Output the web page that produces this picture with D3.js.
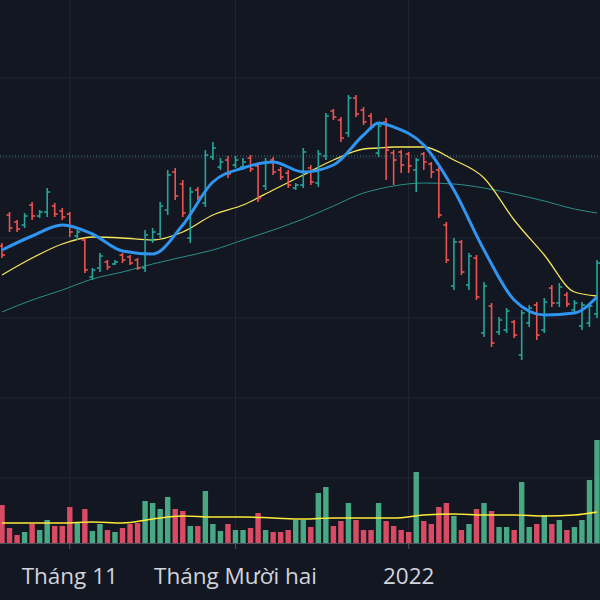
<!DOCTYPE html>
<html>
<head>
<meta charset="utf-8">
<script src="https://cdn.jsdelivr.net/npm/d3@7"></script>
<style>
  html, body { margin: 0; padding: 0; background: #131722; }
  svg { display: block; }
</style>
</head>
<body>
<svg width="600" height="600"></svg>
<script>
'use strict';
// OHLC bars (arbitrary price units)
const highs  = [357,388,380,387,398,390,412,397,392,388,370,362,332,347,340,340,347,345,342,370,
                372,398,430,432,420,413,413,450,458,442,444,444,442,445,437,442,443,433,430,417,
                452,435,450,487,491,483,505,505,493,487,478,482,450,450,448,442,448,438,433,378,
                362,360,347,345,318,297,283,292,280,290,295,298,302,315,317,308,300,298,297,340];
const lows   = [342,368,368,372,380,382,383,383,380,363,360,327,320,328,330,335,337,335,330,328,
                357,362,385,400,383,357,400,393,440,430,422,432,430,428,398,410,425,420,412,410,
                412,415,413,440,480,458,463,483,475,470,443,420,415,427,427,408,430,422,382,337,
                310,325,310,300,263,253,265,267,262,240,273,260,267,293,293,293,287,270,273,282];
const opens  = [354,385,378,375,395,384,388,394,389,386,364,360,323,332,338,336,345,343,340,332,
                360,366,390,428,416,362,410,397,443,433,440,435,433,442,434,414,440,430,427,412,
                415,432,417,444,489,480,467,502,490,484,447,478,447,448,446,430,446,436,430,375,
                314,358,315,342,267,294,268,270,278,245,277,295,270,312,297,305,290,274,277,286];
const closes = [345,372,371,384,384,388,408,386,383,368,368,330,330,344,333,338,340,337,332,365,
                368,394,425,404,387,408,403,445,452,438,426,440,438,431,402,438,428,423,415,415,
                448,418,446,484,483,462,502,486,478,473,474,450,440,435,434,440,438,428,385,340,
                358,328,344,303,314,257,280,289,265,287,292,265,298,297,313,296,297,295,294,337];
const volumes = [38,15,8,11,19,13,23,17,17,36,20,34,12,19,13,11,15,19,20,42,
                 40,34,46,34,32,17,17,52,19,12,19,13,13,15,30,13,11,11,13,23,
                 23,16,50,56,17,22,40,23,13,13,40,22,17,13,11,71,22,19,36,40,
                 27,13,19,34,40,32,16,16,13,61,16,19,28,19,23,13,16,23,63,103];

// moving averages sampled at these bar indices
const maIdx   = [0,4,8,12,16,20,24,28,32,36,40,44,48,50,52,56,60,64,68,72,76,79];
const maFast  = [350,364,375,366,349,346,375,418,432,438,428,435,465,477,473,455,410,350,300,285,287,303];
const maMid   = [325,342,356,363,362,360,368,385,395,410,425,440,451,452,453,453,440,422,380,345,308,304];
const maSlow  = [288,300,310,321,328,336,343,350,360,370,381,394,407,411,414,417,416,412,406,399,391,387];
const volMa   = [20,20,20,21,20,24,27,26,26,25,24,25,25,25,25,28,29,28,28,27,28,31];

const gridPrices = [522,442,362,282,202,122];
const lastPrice = 444;
const tickIdx = [9,31,54];
const tickLabels = ["Tháng 11", "Tháng Mười hai", "2022"];

const W = 600, H = 600;
const svg = d3.select('svg');

const x = d3.scaleLinear().domain([0, 79]).range([2, 597]);
const y = d3.scaleLinear().domain([0, 600]).range([600, 0]);
const vy = d3.scaleLinear().domain([0, 100]).range([543, 443]);

const up = '#26a69a', down = '#ef5350';

// grid
svg.append('g').selectAll('line').data(gridPrices).join('line')
    .attr('x1', 0).attr('x2', W)
    .attr('y1', d => y(d)).attr('y2', d => y(d))
    .attr('stroke', '#232733').attr('stroke-width', 1);
svg.append('g').selectAll('line').data(tickIdx).join('line')
    .attr('x1', d => x(d)).attr('x2', d => x(d))
    .attr('y1', 0).attr('y2', 543)
    .attr('stroke', '#232733').attr('stroke-width', 1);

// last price dotted line
svg.append('line')
    .attr('x1', 0).attr('x2', W)
    .attr('y1', y(lastPrice)).attr('y2', y(lastPrice))
    .attr('stroke', '#3d7f86').attr('stroke-width', 1)
    .attr('stroke-dasharray', '1,2');

// volume
svg.append('g').selectAll('rect').data(volumes).join('rect')
    .attr('x', (d, i) => x(i) - 2.7)
    .attr('width', 5.4)
    .attr('y', d => vy(d))
    .attr('height', d => 543 - vy(d))
    .attr('fill', (d, i) => closes[i] >= opens[i] ? '#4fb88f' : '#f0506a')
    .attr('opacity', 0.9);

svg.append('path')
    .datum(maIdx.map((d, i) => [d, volMa[i]]))
    .attr('fill', 'none').attr('stroke', '#ffeb3b').attr('stroke-width', 1.5)
    .attr('d', d3.line().x(d => x(d[0])).y(d => vy(d[1])).curve(d3.curveMonotoneX));

// moving averages
function maLine(vals, color, width) {
    svg.append('path')
        .datum(maIdx.map((d, i) => [d, vals[i]]))
        .attr('fill', 'none').attr('stroke', color).attr('stroke-width', width)
        .attr('d', d3.line().x(d => x(d[0])).y(d => y(d[1])).curve(d3.curveMonotoneX));
}
maLine(maSlow, '#2a8f8c', 1);
maLine(maMid, '#f5e55a', 1.3);

// OHLC bars
const bars = svg.append('g').selectAll('g').data(highs).join('g')
    .attr('stroke', (d, i) => closes[i] >= opens[i] ? up : down)
    .attr('stroke-width', 1.6);
bars.append('line')
    .attr('x1', (d, i) => x(i)).attr('x2', (d, i) => x(i))
    .attr('y1', d => y(d)).attr('y2', (d, i) => y(lows[i]));
bars.append('line')
    .attr('x1', (d, i) => x(i) - 3).attr('x2', (d, i) => x(i))
    .attr('y1', (d, i) => y(opens[i])).attr('y2', (d, i) => y(opens[i]));
bars.append('line')
    .attr('x1', (d, i) => x(i)).attr('x2', (d, i) => x(i) + 3)
    .attr('y1', (d, i) => y(closes[i])).attr('y2', (d, i) => y(closes[i]));

maLine(maFast, '#2f95f0', 3);

// time axis
svg.append('line').attr('x1', 0).attr('x2', W).attr('y1', 543.5).attr('y2', 543.5)
    .attr('stroke', '#50535e');
svg.append('g').selectAll('line').data(tickIdx).join('line')
    .attr('x1', d => x(d)).attr('x2', d => x(d))
    .attr('y1', 543).attr('y2', 549)
    .attr('stroke', '#50535e');
svg.append('g').selectAll('text').data(tickIdx).join('text')
    .attr('x', d => x(d)).attr('y', 584)
    .attr('text-anchor', 'middle')
    .attr('font-family', '"Open Sans", sans-serif')
    .attr('font-size', 22.5)
    .attr('fill', '#d1d4dc')
    .text((d, i) => tickLabels[i]);
</script>
</body>
</html>
